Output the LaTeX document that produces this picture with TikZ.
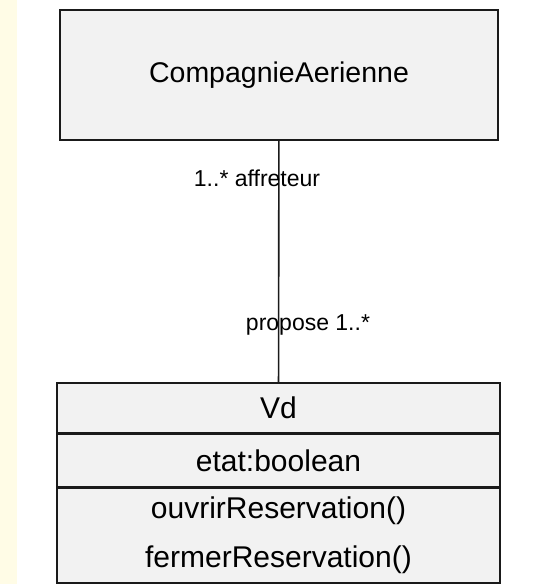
\documentclass[tikz,border=0pt]{standalone}
\usepackage{fontspec}
\setmainfont{Liberation Sans}
\usetikzlibrary{positioning}
\definecolor{cream}{HTML}{FFFCE6}
\definecolor{boxfill}{HTML}{F2F2F2}
\definecolor{ink}{HTML}{1A1A1A}

\begin{document}
\begin{tikzpicture}[x=1pt,y=-1pt,
  classbox/.style={draw=ink,line width=1.6pt,fill=boxfill,minimum width=442pt,inner sep=0pt,font=\fontsize{30}{34}\selectfont},
  rolelabel/.style={font=\fontsize{23}{26}\selectfont,inner sep=0pt}]
\useasboundingbox (0,0) rectangle (546,584);
\fill[cream] (0,0) rectangle (17,584);
% classes
\node[classbox,minimum width=438pt,minimum height=130pt,font=\fontsize{28.5}{32}\selectfont] (compagnie) at (279,75) {CompagnieAerienne};
\node[classbox,minimum width=443pt,minimum height=50pt] (vdnom) at (278.5,408) {Vd};
\node[classbox,minimum width=443pt,minimum height=52pt,below=0pt of vdnom] (vdattr) {etat:boolean};
\node[classbox,minimum width=443pt,minimum height=95pt,below=0pt of vdattr,align=center,font=\fontsize{30}{49}\selectfont] (vdops) {ouvrirReservation()\\fermerReservation()};
% association
\draw[ink,line width=1.6pt] (compagnie) -- (vdnom);
\node[rolelabel] (roleaff) at (257,178) {1..* affreteur};
\node[rolelabel] (rolepro) at (308,325) {propose 1..*};
\end{tikzpicture}
\end{document}
